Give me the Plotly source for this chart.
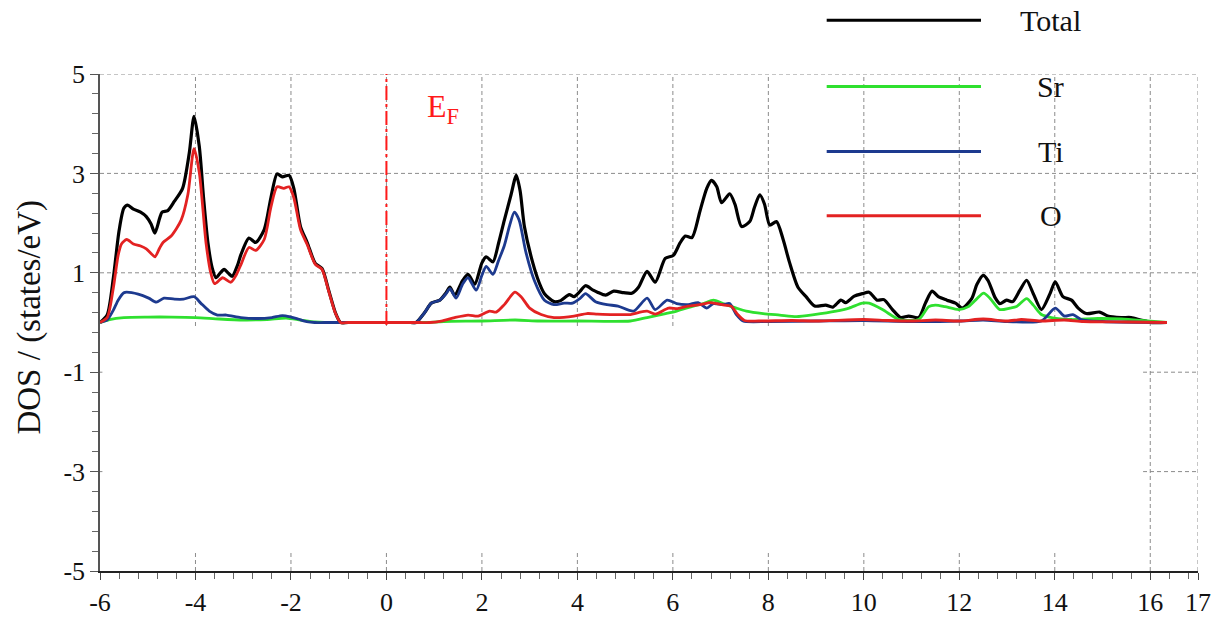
import plotly.graph_objects as go

# ---- Density of states (states/eV) vs energy (eV) ----
total_e = [-6.0, -5.85, -5.72, -5.6, -5.5, -5.42, -5.3, -5.15, -5.03, -4.93, -4.85, -4.75, -4.7, -4.58,
           -4.44, -4.27, -4.13, -4.03, -3.92, -3.83, -3.74, -3.65, -3.57, -3.48, -3.4, -3.3, -3.23, -3.12,
           -3.05, -2.88, -2.74, -2.56, -2.42, -2.29, -2.18, -2.04, -1.94, -1.8, -1.66, -1.49, -1.35, -1.21,
           -1.07, -0.96, -0.8, 0.0, 0.5, 0.62, 0.8, 0.94, 1.12, 1.25, 1.33, 1.43, 1.6, 1.71, 1.85, 2.0, 2.09, 2.23,
           2.35, 2.47, 2.61, 2.72, 2.8, 2.89, 3.06, 3.2, 3.31, 3.51, 3.65, 3.83, 3.93, 4.05, 4.17, 4.33,
           4.42, 4.59, 4.76, 4.97, 5.14, 5.28, 5.46, 5.63, 5.84, 6.01, 6.15, 6.26, 6.4, 6.57, 6.71, 6.81,
           6.92, 7.02, 7.19, 7.3, 7.44, 7.61, 7.71, 7.82, 7.92, 8.03, 8.17, 8.31, 8.44, 8.62, 8.79, 8.97,
           9.2, 9.35, 9.52, 9.62, 9.8, 9.97, 10.11, 10.28, 10.42, 10.6, 10.77, 10.94, 11.15, 11.29, 11.43,
           11.56, 11.74, 11.92, 12.06, 12.26, 12.37, 12.5, 12.6, 12.75, 12.85, 12.99, 13.12, 13.27, 13.41,
           13.55, 13.72, 13.9, 14.01, 14.17, 14.35, 14.49, 14.66, 14.94, 15.11, 15.39, 15.6, 15.8, 15.94,
           16.0, 16.35]
total_dos = [0.0, 0.15, 0.9, 1.85, 2.3, 2.36, 2.28, 2.22, 2.13, 1.98, 1.8, 2.1, 2.22, 2.25,
             2.44, 2.7, 3.41, 4.15, 3.54, 2.5, 1.61, 1.1, 0.9, 1.0, 1.07, 0.98, 0.93, 1.15,
             1.36, 1.7, 1.61, 1.87, 2.51, 2.99, 2.93, 2.96, 2.7, 1.93, 1.61, 1.19, 1.09, 0.65,
             0.2, 0.0, 0.0, 0.0, 0.0, 0.0, 0.2, 0.39, 0.45, 0.6, 0.71, 0.55, 0.85, 0.97, 0.77, 1.2, 1.32, 1.22,
             1.6, 2.06, 2.57, 2.96, 2.65, 1.93, 1.22, 0.8, 0.58, 0.42, 0.44, 0.56, 0.52, 0.62, 0.74, 0.65,
             0.61, 0.55, 0.63, 0.6, 0.59, 0.71, 1.03, 0.81, 1.29, 1.35, 1.6, 1.74, 1.71, 2.25, 2.7, 2.86,
             2.73, 2.41, 2.59, 2.38, 1.93, 2.03, 2.32, 2.57, 2.38, 1.96, 2.03, 1.67, 1.22, 0.71, 0.52, 0.33,
             0.35, 0.31, 0.45, 0.4, 0.53, 0.58, 0.61, 0.45, 0.46, 0.26, 0.1, 0.13, 0.1, 0.39, 0.63,
             0.52, 0.45, 0.39, 0.29, 0.48, 0.77, 0.95, 0.85, 0.5, 0.38, 0.45, 0.42, 0.65, 0.85,
             0.58, 0.26, 0.58, 0.82, 0.52, 0.45, 0.29, 0.18, 0.21, 0.13, 0.1, 0.1, 0.05, 0.02,
             0.0, 0.0]

sr_e = [-6.0, -5.8, -5.5, -5.0, -4.5, -4.0, -3.5, -3.0, -2.5, -2.1, -1.8, -1.5, -1.3, -1.0, 0.5, 0.8, 1.2, 2.0,
        2.7, 3.2, 4.0, 5.11, 5.46, 5.8, 6.08, 6.43, 6.64, 6.85, 7.05, 7.33, 7.54, 7.89, 8.24, 8.59,
        8.96, 9.42, 9.69, 9.97, 10.11, 10.39, 10.6, 10.74, 11.15, 11.36, 11.5, 11.7, 11.99, 12.19,
        12.37, 12.51, 12.65, 12.85, 13.06, 13.2, 13.41, 13.55, 13.72, 13.93, 14.35, 14.9, 15.4,
        15.94, 16.35]
sr_dos = [0.0, 0.06, 0.1, 0.11, 0.11, 0.1, 0.07, 0.05, 0.06, 0.09, 0.05, 0.01, 0.0, 0.0, 0.0, 0.0, 0.02, 0.03,
          0.05, 0.03, 0.03, 0.03, 0.1, 0.17, 0.23, 0.33, 0.38, 0.45, 0.38, 0.29, 0.23, 0.18, 0.15, 0.12,
          0.16, 0.23, 0.29, 0.39, 0.39, 0.26, 0.13, 0.06, 0.06, 0.32, 0.35, 0.32, 0.26, 0.32,
          0.48, 0.59, 0.48, 0.26, 0.29, 0.32, 0.48, 0.35, 0.16, 0.1, 0.06, 0.08, 0.07,
          0.03, 0.0]

ti_e = [-6.0, -5.85, -5.72, -5.62, -5.5, -5.44, -5.2, -4.98, -4.82, -4.66, -4.44, -4.25, -4.03, -3.89,
        -3.71, -3.54, -3.35, -3.05, -2.7, -2.4, -2.18, -2.0, -1.85, -1.67, -1.5, -1.3, 0.0, 0.5, 0.62, 0.8, 0.94, 1.12,
        1.25, 1.33, 1.46, 1.6, 1.71, 1.88, 2.0, 2.09, 2.23, 2.35, 2.47, 2.58, 2.68, 2.78, 2.92, 3.1,
        3.31, 3.51, 3.72, 3.9, 4.05, 4.17, 4.38, 4.62, 4.85, 5.18, 5.46, 5.63, 5.88, 6.08, 6.32, 6.53,
        6.71, 6.85, 7.05, 7.19, 7.33, 7.47, 8.0, 9.0, 10.0, 11.0, 12.0, 12.5, 13.0, 13.72, 14.01,
        14.2, 14.38, 14.55, 15.0, 16.35]
ti_dos = [0.0, 0.05, 0.25, 0.45, 0.6, 0.61, 0.57, 0.49, 0.41, 0.49, 0.47, 0.47, 0.52, 0.39,
          0.23, 0.15, 0.15, 0.1, 0.08, 0.1, 0.14, 0.11, 0.07, 0.02, 0.0, 0.0, 0.0, 0.0, 0.0, 0.2, 0.39, 0.45,
          0.58, 0.68, 0.49, 0.78, 0.9, 0.65, 0.95, 1.13, 0.97, 1.25, 1.55, 1.95, 2.22, 2.06, 1.42, 0.84,
          0.45, 0.36, 0.39, 0.39, 0.48, 0.58, 0.42, 0.36, 0.33, 0.23, 0.49, 0.26, 0.45, 0.38, 0.36, 0.4,
          0.29, 0.38, 0.36, 0.38, 0.16, 0.03, 0.02, 0.03, 0.04, 0.02, 0.03, 0.05, 0.02, 0.03, 0.29,
          0.13, 0.16, 0.06, 0.02, 0.0]

o_e = [-6.0, -5.85, -5.72, -5.62, -5.55, -5.44, -5.3, -5.15, -5.03, -4.92, -4.85, -4.75, -4.68, -4.51,
       -4.3, -4.16, -4.03, -3.92, -3.78, -3.68, -3.6, -3.43, -3.26, -3.15, -3.05, -2.88, -2.74, -2.56,
       -2.42, -2.29, -2.15, -2.04, -1.94, -1.8, -1.66, -1.49, -1.35, -1.21, -1.07, -0.96, -0.8, 0.0, 0.7,
       0.9, 1.15, 1.43, 1.71, 1.92, 2.16, 2.3, 2.47, 2.69, 2.82, 3.0, 3.24, 3.51, 3.93, 4.2, 4.42, 4.76, 5.11,
       5.28, 5.46, 5.63, 5.91, 6.1, 6.32, 6.57, 6.78, 6.92, 7.08, 7.22, 7.36, 7.5, 7.8, 8.5, 9.0,
       10.0, 10.5, 11.0, 11.5, 12.0, 12.5, 13.0, 13.3, 13.7, 14.2, 14.6, 15.5, 16.35]
o_dos = [0.0, 0.1, 0.7, 1.35, 1.58, 1.67, 1.58, 1.54, 1.48, 1.38, 1.32, 1.5, 1.61, 1.74,
         2.06, 2.57, 3.5, 3.02, 1.61, 1.0, 0.78, 0.9, 0.81, 0.95, 1.16, 1.51, 1.45, 1.67,
         2.32, 2.73, 2.7, 2.73, 2.51, 1.87, 1.57, 1.17, 1.07, 0.63, 0.19, 0.0, 0.0, 0.0, 0.0,
         0.0, 0.03, 0.1, 0.15, 0.13, 0.23, 0.21, 0.36, 0.61, 0.52, 0.29, 0.16, 0.1, 0.13, 0.18, 0.17, 0.16, 0.16,
         0.2, 0.23, 0.17, 0.29, 0.28, 0.33, 0.36, 0.4, 0.38, 0.35, 0.33, 0.16, 0.04, 0.03, 0.04, 0.03,
         0.06, 0.04, 0.03, 0.05, 0.03, 0.07, 0.03, 0.06, 0.03, 0.05, 0.02, 0.01, 0.0]

series_names = ["Total", "Sr", "Ti", "O"]
series_colors = ["#000000", "#2fe02f", "#1d3a8f", "#e32222"]
series_widths = [3.2, 2.8, 2.8, 2.8]
series_data = [(total_e, total_dos), (sr_e, sr_dos), (ti_e, ti_dos), (o_e, o_dos)]

x_ticks = [-6, -4, -2, 0, 2, 4, 6, 8, 10, 12, 14, 16, 17]
y_ticks = [-5, -3, -1, 1, 3, 5]
fermi_level = 0.0

SERIF = "Liberation Serif"
GRID = dict(color="#8c8c8c", width=1, dash="4px,3px")

# plot-area geometry in pixels, used to place the decorations drawn in paper space
L, R, T, B = 100, 1203, 74, 593


def px_x(px):
    return (px - L) / (R - L)


def px_y(py):
    return (B - py) / (B - T)


fig = go.Figure()

for name, color, width, (ex, dos) in zip(series_names, series_colors, series_widths, series_data):
    fig.add_trace(go.Scatter(
        x=ex, y=dos, mode="lines", name=name,
        line=dict(color=color, width=width, shape="spline", smoothing=0.7),
        showlegend=False,
    ))

shapes = []
# dashed grid
for xv in x_ticks[1:]:
    shapes.append(dict(type="line", xref="x", yref="y", x0=xv, x1=xv, y0=-5, y1=5,
                       line=GRID, layer="below"))
for yv in y_ticks[1:]:
    shapes.append(dict(type="line", xref="x", yref="y", x0=-6, x1=17, y0=yv, y1=yv,
                       line=GRID, layer="below"))
# blank panel over the lower half of the grid
shapes.append(dict(type="rect", xref="x", yref="y", x0=-5.95, x1=15.85, y0=-4.62, y1=-0.1,
                   fillcolor="white", line=dict(width=0), layer="below"))
# legend panel
shapes.append(dict(type="rect", xref="paper", yref="paper", x0=px_x(805), x1=px_x(1186),
                   y0=px_y(279), y1=px_y(0), fillcolor="white", line=dict(width=0), layer="below"))

# Fermi level
shapes.append(dict(type="line", xref="x", yref="y", x0=fermi_level, x1=fermi_level, y0=-0.05, y1=5.1,
                   line=dict(color="#ff1a1a", width=2, dash="14px,4px,3px,4px")))

annotations = []
legend_rows = [18, 87, 155, 222]
for name, color, row in zip(series_names, series_colors, legend_rows):
    shapes.append(dict(type="line", xref="paper", yref="paper", x0=px_x(830), x1=px_x(985),
                       y0=px_y(row), y1=px_y(row), line=dict(color=color, width=3)))
    annotations.append(dict(xref="paper", yref="paper", x=px_x(1055), y=px_y(row), text=name,
                            showarrow=False, xanchor="center", yanchor="middle",
                            font=dict(family=SERIF, size=30, color="#111111")))

annotations.append(dict(xref="x", yref="y", x=0.8, y=4.3, text="E<sub>F</sub>", showarrow=False,
                        xanchor="left", yanchor="middle",
                        font=dict(family=SERIF, size=32, color="#ff1a1a")))
annotations.append(dict(xref="paper", yref="paper", x=px_x(29), y=px_y(328), text="DOS / (states/eV)",
                        textangle=-90, showarrow=False, xanchor="center", yanchor="middle",
                        font=dict(family=SERIF, size=33, color="#111111")))

fig.update_layout(
    width=1223, height=629,
    margin=dict(l=L, r=1223 - R, t=T, b=629 - B),
    paper_bgcolor="white", plot_bgcolor="white",
    shapes=shapes, annotations=annotations,
    showlegend=False,
    font=dict(family=SERIF),
)

fig.update_xaxes(
    range=[-6, 17], tickmode="array", tickvals=x_ticks, ticktext=[str(v) for v in x_ticks],
    showgrid=False, zeroline=False, showline=True, linecolor="#222222", linewidth=1.5,
    ticks="outside", ticklen=7, tickwidth=1, tickcolor="#444444",
    tickfont=dict(family=SERIF, size=26, color="#111111"),
    minor=dict(tickmode="linear", tick0=-6, dtick=0.4, ticks="outside", ticklen=6,
               tickcolor="#666666", showgrid=False),
)
fig.update_yaxes(
    range=[-5, 5], tickmode="array", tickvals=y_ticks, ticktext=[str(v) for v in y_ticks],
    showgrid=False, zeroline=False, showline=True, linecolor="#555555", linewidth=1.5,
    ticks="outside", ticklen=8, tickwidth=1, tickcolor="#555555",
    tickfont=dict(family=SERIF, size=26, color="#111111"),
    minor=dict(tickmode="linear", tick0=-5, dtick=0.4, ticks="outside", ticklen=6,
               tickcolor="#666666", showgrid=False),
)

fig.write_html("out.html")
